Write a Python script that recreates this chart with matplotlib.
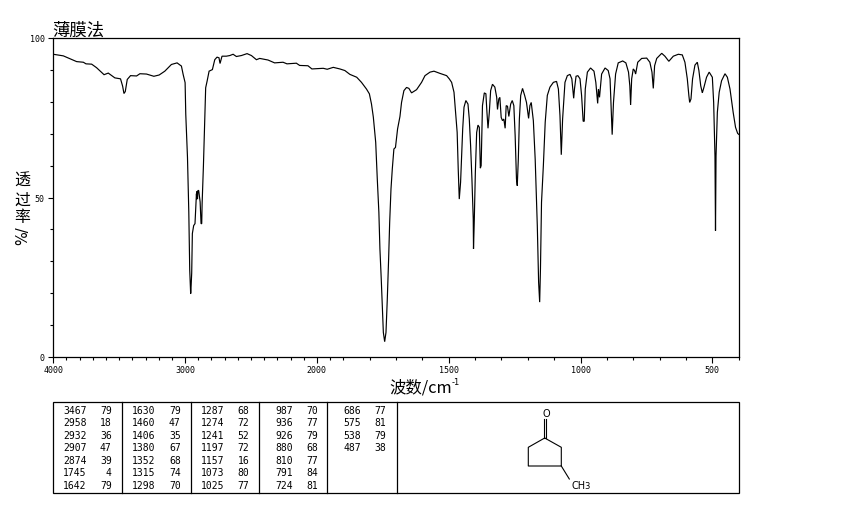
import matplotlib
matplotlib.use('Agg')
import matplotlib.pyplot as plt
import numpy as np
from matplotlib.patches import Rectangle

plt.rcParams['font.family'] = ['Noto Sans CJK SC', 'DejaVu Sans']

# spectrum
wavenumber = [
    4000, 3924, 3823, 3772, 3752, 3709, 3672, 3615, 3583, 3533, 3490, 3474, 3464, 3454, 3439,
    3414, 3368, 3343, 3293, 3237, 3197, 3154, 3104, 3061, 3028, 3015, 3000, 2995, 2982, 2972,
    2965, 2958, 2957, 2950, 2945, 2935, 2925, 2914, 2912, 2909, 2906, 2903, 2897, 2886, 2879,
    2874, 2871, 2861, 2851, 2844, 2833, 2818, 2793, 2775, 2758, 2743, 2735, 2720, 2687,
    2661, 2636, 2611, 2573, 2530, 2497, 2459, 2434, 2371, 2321, 2257, 2227, 2156, 2131, 2068,
    2038, 1976, 1961, 1938, 1913, 1894, 1875, 1849, 1831, 1812, 1801, 1793, 1786, 1777, 1771,
    1765, 1761, 1756, 1752, 1748, 1743, 1738, 1733, 1728, 1724, 1719, 1714, 1708, 1702, 1694,
    1685, 1679, 1670, 1660, 1651, 1641, 1622, 1603, 1590, 1571, 1556, 1533, 1508, 1498,
    1489, 1480, 1474, 1468, 1464, 1460, 1455, 1451, 1447, 1442, 1435, 1427, 1422, 1417, 1412,
    1407, 1406, 1403, 1399, 1394, 1389, 1384, 1380, 1377, 1374, 1372, 1365, 1359, 1355, 1351,
    1346, 1341, 1334, 1325, 1318, 1315, 1310, 1306, 1301, 1296, 1291, 1286, 1282, 1277, 1272,
    1265, 1259, 1253, 1248, 1243, 1240, 1236, 1232, 1227, 1220, 1212, 1205, 1197, 1192, 1187,
    1179, 1172, 1164, 1159, 1155, 1152, 1148, 1141, 1134, 1126, 1116, 1103, 1091, 1084, 1078,
    1073, 1068, 1059, 1050, 1040, 1033, 1026, 1023, 1017, 1010, 1002, 996, 990, 986, 982,
    974, 962, 949, 942, 935, 932, 928, 925, 920, 907, 895, 888, 883, 880, 875,
    867, 857, 840, 828, 818, 813, 810, 806, 800, 795, 791, 783, 768, 749, 737,
    729, 724, 719, 711, 692, 680, 665, 648, 629, 614, 604, 595, 589, 586, 581,
    575, 566, 557, 551, 544, 538, 532, 522, 512, 500, 495, 490, 488, 486, 481,
    474, 465, 452, 443, 433, 421, 412, 404, 400,
]
transmittance = [
    94.9, 94.4, 92.6, 92.4, 91.9, 91.8, 90.7, 88.5, 89.0, 87.5, 87.2, 84.9, 82.6, 83.2, 87.0,
    88.2, 88.1, 88.8, 88.7, 88.0, 88.4, 89.6, 91.7, 92.2, 91.2, 88.6, 86.0, 76.1, 62.6, 45.5,
    27.3, 19.9, 19.9, 26.3, 38.7, 41.2, 41.8, 51.2, 49.5, 52.0, 49.5, 52.2, 52.2, 48.6, 41.8,
    41.8, 48.0, 60.0, 74.0, 84.4, 86.5, 89.6, 90.1, 93.2, 94.0, 93.8, 92.0, 94.3, 94.3,
    94.5, 94.9, 94.2, 94.5, 95.1, 94.5, 93.2, 93.6, 93.1, 92.2, 92.4, 91.9, 92.1, 91.4, 91.3,
    90.3, 90.5, 90.2, 90.8, 90.3, 89.8, 88.6, 87.7, 86.1, 84.0, 82.5, 79.3, 75.2, 67.3, 55.8,
    45.4, 33.9, 24.5, 16.1, 7.7, 4.8, 7.7, 18.2, 30.7, 42.2, 52.7, 59.0, 65.2, 65.7, 71.5,
    75.4, 79.8, 83.5, 84.5, 84.2, 82.8, 83.8, 86.1, 88.2, 89.3, 89.6, 88.9, 88.2, 87.2,
    86.1, 83.0, 76.7, 70.4, 59.0, 49.5, 54.8, 63.1, 71.5, 78.3, 80.4, 79.3, 74.6, 66.3, 55.8,
    43.3, 33.9, 43.0, 57.9, 70.4, 72.7, 72.0, 59.2, 60.0, 71.5, 78.8, 82.8, 82.5, 76.7, 71.7,
    76.7, 83.5, 85.5, 84.6, 81.4, 77.6, 80.9, 81.4, 75.1, 74.1, 74.6, 71.7, 78.8, 78.6, 75.4,
    79.3, 80.4, 78.8, 69.4, 55.8, 53.7, 62.0, 74.6, 82.0, 84.2, 82.0, 79.8, 74.8, 78.8, 79.8,
    74.1, 62.0, 41.2, 23.4, 17.2, 27.6, 48.5, 60.0, 73.6, 82.0, 84.6, 86.1, 86.4, 84.0, 75.7,
    63.4, 74.6, 86.1, 88.2, 88.6, 87.2, 81.1, 84.0, 88.0, 88.2, 87.2, 82.0, 73.9, 73.9, 84.0,
    89.3, 90.6, 89.6, 86.1, 79.5, 84.0, 81.4, 84.0, 88.7, 90.6, 89.8, 87.2, 76.7, 69.7, 79.8,
    88.7, 92.2, 92.8, 92.2, 89.3, 85.0, 79.0, 87.2, 90.3, 89.8, 88.7, 92.4, 93.6, 93.7, 92.4,
    89.3, 84.2, 91.3, 93.6, 95.2, 94.3, 92.7, 94.3, 94.9, 94.7, 92.4, 87.2, 81.9, 79.8, 80.9,
    87.2, 91.5, 92.4, 89.8, 85.0, 82.8, 84.5, 87.7, 89.3, 87.7, 79.8, 63.0, 39.6, 63.0, 76.7,
    83.0, 86.6, 88.8, 87.7, 84.0, 76.7, 72.0, 70.1, 69.8,
]

# peak table, one list per column
peak_wn = [
    ['3467', '2958', '2932', '2907', '2874', '1745', '1642'],
    ['1630', '1460', '1406', '1380', '1352', '1315', '1298'],
    ['1287', '1274', '1241', '1197', '1157', '1073', '1025'],
    ['987', '936', '926', '880', '810', '791', '724'],
    ['686', '575', '538', '487'],
]
peak_t = [
    ['79', '18', '36', '47', '39', '4', '79'],
    ['79', '47', '35', '67', '68', '74', '70'],
    ['68', '72', '52', '72', '16', '80', '77'],
    ['70', '77', '79', '68', '77', '84', '81'],
    ['77', '81', '79', '38'],
]
column_left = [53, 122, 190.7, 259, 327]
row_y = [411, 423.3, 436, 448.3, 461, 473.3, 485.7]

W, H = 850, 510


def forward(w):
    # the axis is twice as wide per cm-1 below 2000
    w = np.asarray(w, dtype=float)
    return np.where(w >= 2000, (w - 2000) * 0.5, w - 2000)


def inverse(v):
    v = np.asarray(v, dtype=float)
    return np.where(v >= 0, v * 2 + 2000, v + 2000)


fig = plt.figure(figsize=(W / 100, H / 100), dpi=100)
ax = fig.add_axes([53.3 / W, 1 - 358 / H, (738.7 - 53.3) / W, (358 - 39) / H])
ax.set_xscale('function', functions=(forward, inverse))
ax.plot(wavenumber, transmittance, color='black', lw=0.85, solid_joinstyle='miter')
ax.set_xlim(4000, 400)
ax.set_ylim(0, 100)

ax.set_xticks([4000, 3000, 2000, 1500, 1000, 500])
ax.set_xticklabels(['4000', '3000', '2000', '1500', '1000', '500'], family='DejaVu Sans Mono', fontsize=6)
ax.set_xticks(list(range(3900, 1900, -100)) + [1950] + list(range(1900, 300, -100)), minor=True)
ax.set_yticks([0, 50, 100])
ax.set_yticklabels(['0', '50', '100'], family='DejaVu Sans Mono', fontsize=6)
ax.set_yticks(range(10, 100, 10), minor=True)
ax.tick_params(axis='x', which='major', length=4, width=0.8, pad=1.5)
ax.tick_params(axis='x', which='minor', length=2.2, width=0.8)
ax.tick_params(axis='y', which='major', length=3.6, width=0.8, pad=2.5)
ax.tick_params(axis='y', which='minor', length=2.4, width=0.8)
for s in ax.spines.values():
    s.set_linewidth(0.9)

# overlay in pixel units for the table, structure and labels
over = fig.add_axes([0, 0, 1, 1])
over.set_xlim(0, W)
over.set_ylim(H, 0)
over.axis('off')
over.patch.set_alpha(0)

over.text(52, 31, '薄膜法', fontsize=12.5, ha='left', va='center')
over.text(389, 388, '波数/cm', fontsize=11.8, ha='left', va='center')
over.text(452, 383, '-1', fontsize=6, ha='left', va='center', family='DejaVu Sans')
for ch, y in zip('透过率', [181, 200, 218]):
    over.text(22.5, y, ch, fontsize=11.5, ha='center', va='center')
over.text(22.5, 236, '%/', fontsize=10.5, rotation=90, ha='center', va='center', family='DejaVu Sans')

# table
over.add_patch(Rectangle((53, 403), 686, 91, fill=False, ec='black', lw=0.9))
for x in column_left[1:] + [396.7]:
    over.plot([x, x], [403, 494], color='black', lw=0.9)
for left, wn_col, t_col in zip(column_left, peak_wn, peak_t):
    for y, wn, t in zip(row_y, wn_col, t_col):
        over.text(left + 33.7, y, wn, family='DejaVu Sans Mono', fontsize=7, ha='right', va='center')
        over.text(left + 58.7, y, t, family='DejaVu Sans Mono', fontsize=7, ha='right', va='center')

# 3-methylcyclopentanone
ring_x = [544.7, 561.3, 561.3, 528.3, 528.3, 544.7]
ring_y = [439, 448.3, 467, 467, 448.3, 439]
over.plot(ring_x, ring_y, color='black', lw=0.8)
over.plot([543.7, 543.7], [420, 439], color='black', lw=0.8)
over.plot([545.7, 545.7], [420, 439], color='black', lw=0.8)
over.plot([561.3, 569.3], [467, 480], color='black', lw=0.8)
over.text(546, 414, 'O', family='DejaVu Sans', fontsize=7, ha='center', va='center')
over.text(571.5, 486, 'CH', family='DejaVu Sans', fontsize=7, ha='left', va='center')
over.text(584, 487, '3', family='DejaVu Sans', fontsize=6, ha='left', va='center')

fig.savefig('out.png', dpi=100)
